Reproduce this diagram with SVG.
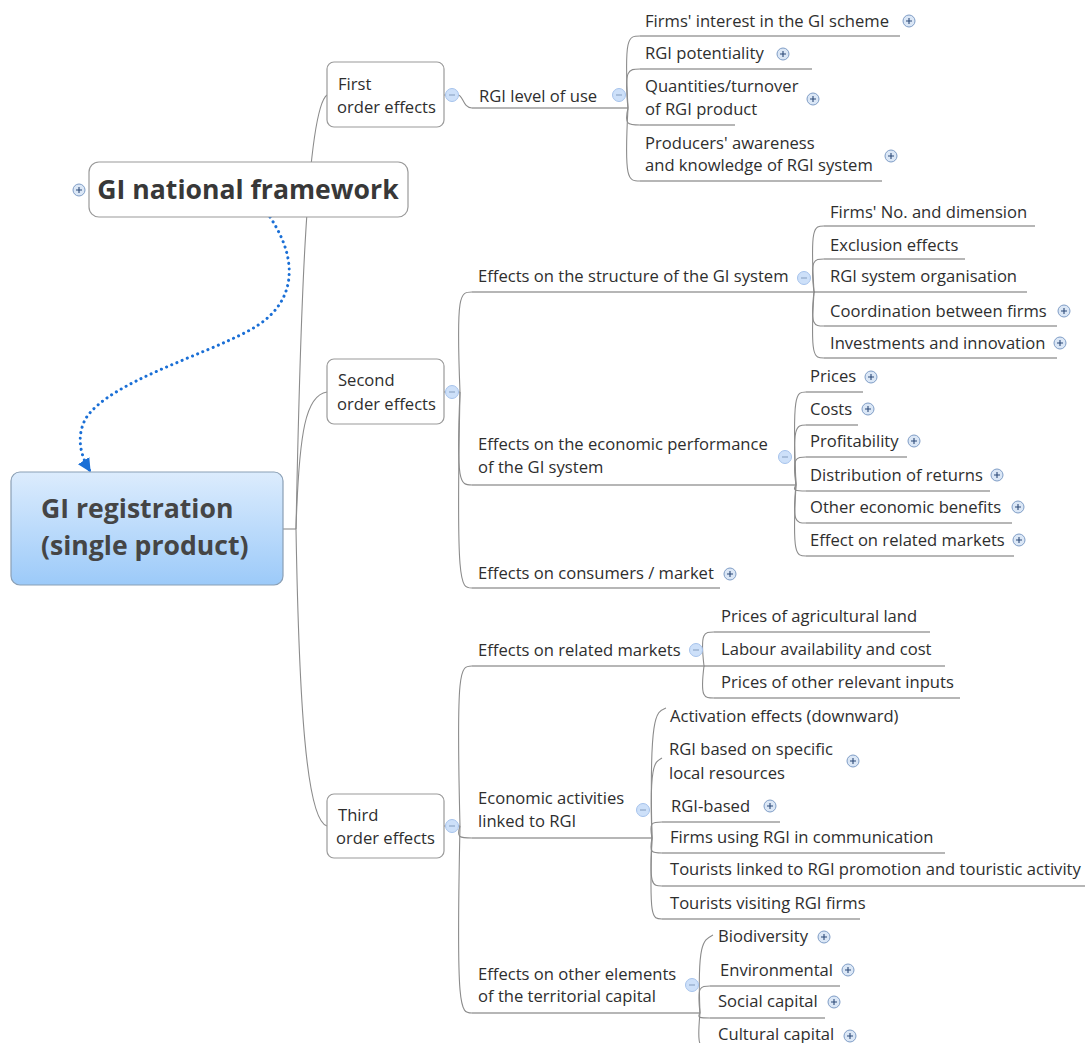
<svg xmlns="http://www.w3.org/2000/svg" width="1085" height="1043" viewBox="0 0 1085 1043">
<style>
.t{font-family:"Open Sans","Noto Sans","Liberation Sans",sans-serif;font-size:16.6px;fill:#2e2e2e}
.big{font-family:"Open Sans","Noto Sans","Liberation Sans",sans-serif;font-weight:bold;fill:#383838}
.box{fill:#fff;stroke:#9a9a9a;stroke-width:1.2}
.c{fill:none;stroke:#8c8c8c;stroke-width:1.1}
.u{fill:none;stroke:#6f6f6f;stroke-width:1.1}
</style>
<defs>
<linearGradient id="cg" x1="0" y1="0" x2="0" y2="1">
<stop offset="0" stop-color="#dcecfd"/>
<stop offset="1" stop-color="#9ccaf9"/>
</linearGradient>
<g id="plus"><circle r="6" fill="#dbe7f6" stroke="#7f9dc6" stroke-width="1"/><path d="M-3,0H3M0,-3V3" stroke="#2c4a78" stroke-width="1.1"/></g>
<g id="minus"><circle r="6.5" fill="#cde0f9" stroke="#a6c3ec" stroke-width="1"/><path d="M-3,0H3" stroke="#8aa2c4" stroke-width="1.1"/></g>
<marker id="ah" viewBox="0 0 10 10" refX="9" refY="5" markerWidth="4.5" markerHeight="4.5" orient="auto"><path d="M0,0L10,5L0,10z" fill="#1a6fd6"/></marker>
</defs>

<g id="connectors">
<path class="c" d="M283,529H296"/>
<path class="c" d="M296,529C300,330 306,110 327,95"/>
<path class="c" d="M296,529C299,430 306,395 327,392"/>
<path class="c" d="M296,529C299,700 306,820 327,826"/>
<path class="c" d="M444,95H458C463,95 463,108 472,108"/>
<path class="u" d="M472,108H628"/>
<path class="c" d="M628,108C624,36 628,36 640,36"/>
<path class="c" d="M628,108C624,69 628,69 640,69"/>
<path class="c" d="M628,108C624,125 628,125 640,125"/>
<path class="c" d="M628,108C624,181 628,181 640,181"/>
<path class="u" d="M640,36H900M640,69H812M640,125H735M640,181H882"/>
<path class="c" d="M444,392H460"/>
<path class="c" d="M460,392C456,292 460,292 472,292"/>
<path class="c" d="M460,392C456,485 460,485 472,485"/>
<path class="c" d="M460,392C456,588 460,588 472,588"/>
<path class="u" d="M472,292H814M472,485H796M472,588H720"/>
<path class="c" d="M814,292C810,226 814,226 824,226"/>
<path class="c" d="M814,292C810,259 814,259 824,259"/>
<path class="c" d="M814,292C810,326 814,326 824,326"/>
<path class="c" d="M814,292C810,358 814,358 824,358"/>
<path class="u" d="M824,226H1035M824,259H965M814,292H1027M824,326H1057M824,358H1057"/>
<path class="c" d="M796,485C792,392 796,392 806,392"/>
<path class="c" d="M796,485C792,425 796,425 806,425"/>
<path class="c" d="M796,485C792,457 796,457 806,457"/>
<path class="c" d="M796,485C792,491 796,491 806,491"/>
<path class="c" d="M796,485C792,523 796,523 806,523"/>
<path class="c" d="M796,485C792,556 796,556 806,556"/>
<path class="u" d="M806,392H863M806,425H858M806,457H907M806,491H990M806,523H1012M806,556H1014"/>
<path class="c" d="M444,826H460"/>
<path class="c" d="M460,826C456,666 460,666 472,666"/>
<path class="c" d="M460,826C456,838 460,838 472,838"/>
<path class="c" d="M460,826C456,1013 460,1013 472,1013"/>
<path class="u" d="M472,666H704M472,838H652M472,1013H700"/>
<path class="c" d="M704,666C700,632 704,632 714,632"/>
<path class="c" d="M704,666C700,698 704,698 714,698"/>
<path class="u" d="M714,632H930M704,666H945M714,698H960"/>
<path class="c" d="M652,838C649,712 656,712 666,708"/>
<path class="c" d="M652,838C649,762 655,762 662,758"/>
<path class="c" d="M652,838C649,822 652,822 662,822"/>
<path class="c" d="M652,838C649,853 652,853 662,853"/>
<path class="c" d="M652,838C649,886 652,886 662,886"/>
<path class="c" d="M652,838C649,919 652,919 662,919"/>
<path class="u" d="M662,822H780M662,853H945M662,886H1085M662,919H860"/>
<path class="c" d="M700,1013C697,940 704,940 713,935"/>
<path class="c" d="M700,1013C697,986 700,986 710,986"/>
<path class="c" d="M700,1013C697,1018 700,1018 710,1018"/>
<path class="c" d="M700,1013C697,1045 700,1045 704,1050"/>
<path class="u" d="M710,986H840M710,1018H825"/>
<path d="M270,217C300,262 296,305 250,330C200,357 110,382 86,418C76,436 80,455 90,471" fill="none" stroke="#1a6fd6" stroke-width="3" stroke-dasharray="0.1 5.5" stroke-linecap="round" marker-end="url(#ah)"/>
</g>

<g id="central">
<rect x="11" y="472" width="272" height="113" rx="9" fill="url(#cg)" stroke="#8a9fb5" stroke-width="1.2"/>
<text class="big" x="41" y="518" font-size="26.6" fill="#454545" style="fill:#454545">GI registration</text>
<text class="big" x="41" y="555" font-size="26.6" style="fill:#454545">(single product)</text>
</g>

<g id="gi-national-framework">
<rect class="box" x="89" y="162" width="319" height="55" rx="10"/>
<text class="big" x="248" y="199" font-size="26.6" text-anchor="middle">GI national framework</text>
<use href="#plus" x="79" y="190"/>
</g>

<g id="first-order">
<rect class="box" x="327" y="62" width="117" height="65" rx="7"/>
<text class="t" x="338" y="90">First</text>
<text class="t" x="337" y="113">order effects</text>
<use href="#minus" x="452" y="95"/>
</g>
<g id="rgi-level"><text class="t" x="479" y="102">RGI level of use</text><use href="#minus" x="619" y="95"/></g>
<g id="n-firms-interest"><text class="t" x="645" y="27">Firms' interest in the GI scheme</text><use href="#plus" x="909" y="21"/></g>
<g id="n-rgi-potentiality"><text class="t" x="645" y="59">RGI potentiality</text><use href="#plus" x="783" y="54"/></g>
<g id="n-quantities"><text class="t" x="645" y="92">Quantities/turnover</text><text class="t" x="645" y="115">of RGI product</text><use href="#plus" x="813" y="99"/></g>
<g id="n-producers"><text class="t" x="645" y="149">Producers' awareness</text><text class="t" x="645" y="171">and knowledge of RGI system</text><use href="#plus" x="891" y="156"/></g>

<g id="second-order">
<rect class="box" x="327" y="359" width="117" height="65" rx="7"/>
<text class="t" x="338" y="386">Second</text>
<text class="t" x="337" y="410">order effects</text>
<use href="#minus" x="452" y="392"/>
</g>
<g id="n-structure"><text class="t" x="478" y="282">Effects on the structure of the GI system</text><use href="#minus" x="804" y="278"/></g>
<g id="n-firms-no"><text class="t" x="830" y="218">Firms' No. and dimension</text></g>
<g id="n-exclusion"><text class="t" x="830" y="251">Exclusion effects</text></g>
<g id="n-rgi-org"><text class="t" x="830" y="282">RGI system organisation</text></g>
<g id="n-coordination"><text class="t" x="830" y="317">Coordination between firms</text><use href="#plus" x="1064" y="311"/></g>
<g id="n-investments"><text class="t" x="830" y="349">Investments and innovation</text><use href="#plus" x="1060" y="343"/></g>
<g id="n-econ"><text class="t" x="478" y="450">Effects on the economic performance</text><text class="t" x="478" y="473">of the GI system</text><use href="#minus" x="785" y="457"/></g>
<g id="n-prices"><text class="t" x="810" y="382">Prices</text><use href="#plus" x="871" y="377"/></g>
<g id="n-costs"><text class="t" x="810" y="415">Costs</text><use href="#plus" x="868" y="409"/></g>
<g id="n-profitability"><text class="t" x="810" y="447">Profitability</text><use href="#plus" x="914" y="441"/></g>
<g id="n-distribution"><text class="t" x="810" y="481">Distribution of returns</text><use href="#plus" x="997" y="475"/></g>
<g id="n-other-econ"><text class="t" x="810" y="513">Other economic benefits</text><use href="#plus" x="1018" y="507"/></g>
<g id="n-effect-related"><text class="t" x="810" y="546">Effect on related markets</text><use href="#plus" x="1019" y="540"/></g>
<g id="n-consumers"><text class="t" x="478" y="579">Effects on consumers / market</text><use href="#plus" x="730" y="574"/></g>

<g id="third-order">
<rect class="box" x="327" y="794" width="117" height="64" rx="7"/>
<text class="t" x="338" y="821">Third</text>
<text class="t" x="336" y="844">order effects</text>
<use href="#minus" x="452" y="826"/>
</g>
<g id="n-related-markets"><text class="t" x="478" y="656">Effects on related markets</text><use href="#minus" x="696" y="650"/></g>
<g id="n-land"><text class="t" x="721" y="622">Prices of agricultural land</text></g>
<g id="n-labour"><text class="t" x="721" y="655">Labour availability and cost</text></g>
<g id="n-inputs"><text class="t" x="721" y="688">Prices of other relevant inputs</text></g>
<g id="n-econ-activities"><text class="t" x="478" y="804">Economic activities</text><text class="t" x="478" y="827">linked to RGI</text><use href="#minus" x="643" y="810"/></g>
<g id="n-activation"><text class="t" x="670" y="722">Activation effects (downward)</text></g>
<g id="n-local-resources"><text class="t" x="669" y="755">RGI based on specific</text><text class="t" x="669" y="779">local resources</text><use href="#plus" x="853" y="761"/></g>
<g id="n-rgi-based"><text class="t" x="671" y="812">RGI-based</text><use href="#plus" x="770" y="806"/></g>
<g id="n-firms-comm"><text class="t" x="670" y="843">Firms using RGI in communication</text></g>
<g id="n-tourists-linked"><text class="t" x="670" y="875">Tourists linked to RGI promotion and touristic activity</text></g>
<g id="n-tourists-visiting"><text class="t" x="670" y="909">Tourists visiting RGI firms</text></g>
<g id="n-other-elements"><text class="t" x="478" y="980">Effects on other elements</text><text class="t" x="478" y="1002">of the territorial capital</text><use href="#minus" x="692" y="985"/></g>
<g id="n-biodiversity"><text class="t" x="718" y="942">Biodiversity</text><use href="#plus" x="824" y="937"/></g>
<g id="n-environmental"><text class="t" x="720" y="976">Environmental</text><use href="#plus" x="848" y="970"/></g>
<g id="n-social"><text class="t" x="718" y="1007">Social capital</text><use href="#plus" x="834" y="1002"/></g>
<g id="n-cultural"><text class="t" x="718" y="1040">Cultural capital</text><use href="#plus" x="850" y="1036"/></g>
</svg>
